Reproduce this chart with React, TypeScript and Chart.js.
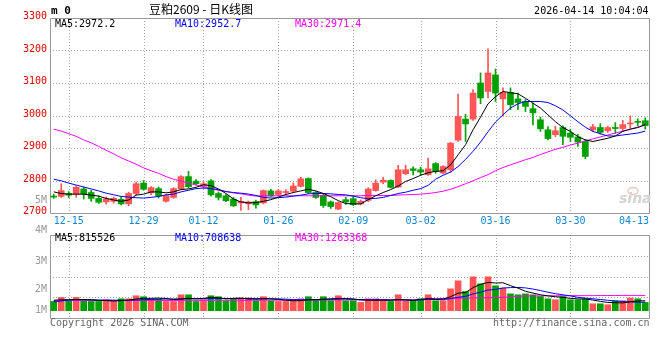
import React, { useEffect, useRef } from 'react';
import { Chart, registerables } from 'chart.js';
Chart.register(...registerables);

const dates = ['12-11','12-12','12-15','12-16','12-17','12-18','12-19','12-22','12-23','12-24','12-25','12-26','12-29','12-30','12-31','01-05','01-06','01-07','01-08','01-09','01-12','01-13','01-14','01-15','01-16','01-19','01-20','01-21','01-22','01-23','01-26','01-27','01-28','01-29','01-30','02-02','02-03','02-04','02-05','02-06','02-09','02-10','02-11','02-12','02-13','02-24','02-25','02-26','02-27','03-02','03-03','03-04','03-05','03-06','03-09','03-10','03-11','03-12','03-13','03-16','03-17','03-18','03-19','03-20','03-23','03-24','03-25','03-26','03-27','03-30','03-31','04-01','04-02','04-03','04-07','04-08','04-09','04-10','04-13','04-14'];

const opens = [2752,2751,2760,2758,2774,2763,2745,2734,2736,2742,2728,2760,2792,2762,2775,2736,2748,2774,2812,2798,2782,2799,2760,2753,2743,2731,2728,2735,2731,2768,2757,2763,2767,2782,2806,2764,2754,2734,2712,2741,2744,2728,2739,2769,2795,2800,2780,2821,2836,2833,2818,2852,2823,2833,2924,2989,2989,3100,3074,3125,3051,3071,3051,3043,3021,2987,2956,2941,2963,2946,2934,2920,2956,2963,2953,2963,2960,2974,2982,2984];
const highs = [2758,2790,2766,2784,2780,2770,2753,2749,2749,2750,2764,2795,2800,2781,2780,2757,2778,2815,2828,2803,2797,2803,2765,2757,2748,2748,2737,2740,2771,2773,2772,2772,2793,2810,2808,2766,2759,2737,2734,2748,2753,2740,2778,2802,2810,2802,2847,2847,2842,2841,2869,2855,2846,2917,3066,3004,3080,3131,3205,3143,3085,3085,3069,3049,3038,2995,2966,2967,2968,2958,2942,2926,2973,2975,2967,2978,2985,2999,2990,2993];
const lows = [2745,2748,2747,2748,2743,2736,2729,2727,2730,2725,2722,2756,2770,2756,2746,2733,2745,2772,2777,2787,2775,2752,2740,2735,2720,2708,2710,2715,2728,2750,2752,2758,2764,2780,2760,2745,2717,2714,2710,2727,2723,2725,2735,2767,2790,2777,2778,2818,2817,2817,2816,2822,2820,2825,2920,2920,2985,3036,3054,3043,2999,3018,3018,3012,2971,2951,2925,2935,2910,2920,2905,2867,2950,2943,2948,2945,2952,2961,2968,2958];
const closes = [2749,2769,2755,2779,2759,2745,2733,2743,2745,2728,2760,2790,2773,2778,2752,2754,2775,2812,2781,2790,2790,2756,2748,2738,2722,2736,2734,2725,2769,2752,2768,2766,2783,2805,2763,2748,2723,2720,2732,2734,2726,2736,2774,2792,2801,2779,2833,2833,2831,2826,2836,2828,2843,2915,2997,2974,3069,3054,3131,3069,3071,3033,3040,3028,3008,2959,2929,2953,2936,2933,2918,2874,2965,2948,2963,2960,2972,2977,2979,2969];

const ma5 = [2765,2760,2758,2758,2758,2755,2752,2745,2740,2736,2740,2755,2758,2765,2765,2762,2765,2772,2774,2779,2787,2784,2774,2760,2743,2734,2731,2732,2736,2741,2749,2757,2763,2768,2773,2768,2760,2750,2738,2729,2728,2728,2741,2753,2763,2772,2783,2797,2806,2816,2824,2828,2830,2848,2879,2910,2956,2995,3036,3058,3074,3070,3067,3053,3038,3023,3002,2981,2963,2951,2935,2925,2920,2925,2930,2937,2951,2958,2963,2972];
const ma10 = [2804,2799,2792,2786,2780,2774,2768,2761,2756,2751,2749,2747,2746,2748,2751,2756,2758,2765,2770,2775,2777,2775,2772,2766,2763,2761,2758,2754,2748,2746,2747,2749,2752,2755,2759,2760,2760,2759,2757,2756,2752,2747,2744,2745,2748,2754,2760,2764,2770,2775,2785,2804,2816,2826,2843,2865,2890,2918,2950,2980,3002,3023,3036,3043,3043,3043,3040,3030,3017,2999,2981,2964,2951,2944,2937,2937,2940,2943,2946,2952];
const ma30 = [2958,2952,2944,2936,2925,2916,2905,2893,2882,2870,2860,2850,2839,2830,2822,2812,2804,2798,2792,2786,2781,2775,2770,2766,2762,2759,2755,2752,2753,2753,2753,2753,2753,2753,2753,2753,2753,2753,2753,2753,2753,2753,2754,2754,2754,2754,2755,2756,2757,2758,2760,2763,2767,2773,2781,2790,2799,2809,2818,2830,2840,2848,2856,2864,2871,2880,2888,2896,2902,2909,2915,2922,2928,2934,2940,2946,2952,2958,2964,2971];

const volumes = [0.76,1.09,0.82,1.09,0.82,0.76,0.76,0.90,0.85,0.98,0.98,1.23,1.15,0.96,0.96,0.76,0.76,1.31,1.31,0.76,0.90,1.23,1.15,0.82,0.98,1.04,1.04,0.82,1.15,0.82,0.76,0.76,0.82,0.98,1.15,0.82,1.15,0.82,1.23,0.82,0.82,0.68,0.98,0.98,0.90,0.76,1.31,0.82,0.82,0.98,1.31,0.82,0.82,1.80,2.46,1.58,2.79,2.21,2.79,2.05,1.86,1.39,1.31,1.39,1.31,1.17,0.98,0.90,1.17,0.90,0.90,0.98,0.57,0.57,0.49,0.82,0.82,1.04,0.98,0.68];
const volMa5 = [0.86,0.90,0.91,0.92,0.92,0.90,0.85,0.83,0.80,0.83,0.87,0.96,1.02,1.02,1.04,1.01,0.92,0.95,1.02,0.98,1.01,1.10,1.07,0.97,1.02,1.04,0.97,0.94,0.98,0.97,0.93,0.86,0.82,0.83,0.90,0.91,0.95,0.98,1.02,1.00,0.97,0.90,0.87,0.86,0.87,0.86,0.91,0.90,0.85,0.93,1.01,0.95,0.96,1.15,1.44,1.50,1.89,2.17,2.33,2.28,2.30,2.06,1.86,1.60,1.45,1.31,1.22,1.15,1.10,1.02,0.97,0.96,0.88,0.77,0.68,0.66,0.64,0.74,0.80,0.82];
const volMa10 = [0.72,0.80,0.88,0.90,0.90,0.90,0.88,0.88,0.87,0.86,0.86,0.88,0.90,0.93,0.95,0.96,0.96,0.98,0.99,0.98,0.98,1.00,1.02,1.00,1.00,1.00,1.02,1.00,1.00,0.99,0.97,0.95,0.92,0.90,0.90,0.89,0.91,0.93,0.96,0.96,0.93,0.90,0.89,0.90,0.90,0.88,0.90,0.88,0.87,0.89,0.93,0.92,0.90,1.00,1.10,1.18,1.38,1.52,1.70,1.75,1.87,1.90,1.91,1.88,1.78,1.66,1.52,1.40,1.31,1.22,1.10,1.04,0.98,0.92,0.86,0.80,0.76,0.72,0.70,0.71];
const volMa30 = [0.83,0.83,0.84,0.84,0.84,0.84,0.84,0.83,0.83,0.84,0.84,0.85,0.85,0.85,0.85,0.84,0.84,0.85,0.86,0.85,0.85,0.86,0.86,0.86,0.86,0.86,0.86,0.86,0.87,0.87,0.87,0.87,0.87,0.88,0.88,0.88,0.88,0.88,0.89,0.89,0.89,0.89,0.90,0.90,0.90,0.90,0.90,0.90,0.90,0.91,0.98,1.00,1.01,1.02,1.03,1.04,1.05,1.06,1.07,1.08,1.10,1.13,1.20,1.21,1.22,1.22,1.23,1.23,1.23,1.24,1.24,1.24,1.24,1.25,1.25,1.25,1.26,1.26,1.26,1.26];

const dateTickLabels = ['12-15','12-29','01-12','01-26','02-09','03-02','03-16','03-30','04-13'];
const gridDateLabels = ['12-15','12-29','01-12','01-26','02-09','03-02','03-16','03-30'];
const priceMin = 2700;
const priceMax = 3300;
const priceStep = 100;
const volAxisLabels = ['5M','4M','3M','2M','1M'];
const volAxisOffsets = [-35, -4.5, 26, 54.5, 75];

const titleText = '豆粕2609 - 日K线图';
const codeText = 'm 0';
const timeText = '2026-04-14 10:04:04';
const priceMaLabels = ['MA5:2972.2', 'MA10:2952.7', 'MA30:2971.4'];
const volMaLabels = ['MA5:815526', 'MA10:708638', 'MA30:1263368'];
const copyrightText = 'Copyright 2026 SINA.COM';
const urlText = 'http://finance.sina.com.cn';

const RED = '#ff5555';
const GREEN = '#00a000';
const MA_COLORS = ['#000000', '#0000ff', '#ff00ff'];
const MONO = '"DejaVu Sans Mono", "Liberation Mono", monospace';
const GRID = '#a8a8a8';
const FRAME = '#999999';

const candleColors = closes.map((c, i) => (c >= opens[i] ? RED : GREEN));

function txt(ctx: CanvasRenderingContext2D, s: string, x: number, y: number, color: string, font: string, align: CanvasTextAlign = 'left') {
  ctx.fillStyle = color;
  ctx.font = font;
  ctx.textAlign = align;
  ctx.textBaseline = 'middle';
  ctx.fillText(s, x, y);
}

function drawGridFrame(chart: any, hLines: number[]) {
  const { ctx, chartArea } = chart;
  const { left, right, top, bottom } = chartArea;
  const x = chart.scales.x;
  ctx.save();
  ctx.lineWidth = 1;
  ctx.strokeStyle = GRID;
  ctx.setLineDash([1, 2]);
  ctx.beginPath();
  hLines.forEach((py) => {
    const yy = Math.round(py) + 0.5;
    ctx.moveTo(left, yy);
    ctx.lineTo(right, yy);
  });
  gridDateLabels.forEach((d) => {
    const idx = dates.indexOf(d);
    const xx = Math.round(x.getPixelForValue(idx)) + 0.5;
    ctx.moveTo(xx, top);
    ctx.lineTo(xx, bottom);
  });
  ctx.stroke();
  ctx.setLineDash([]);
  ctx.strokeStyle = FRAME;
  ctx.beginPath();
  const l = Math.round(left) + 0.5, r = Math.round(right) + 0.5, t = Math.round(top) + 0.5, b = Math.round(bottom) + 0.5;
  ctx.moveTo(l, t); ctx.lineTo(r, t); ctx.lineTo(r, b); ctx.lineTo(l, b); ctx.closePath();
  ctx.stroke();
  ctx.restore();
}

const mainDecor = {
  id: 'mainDecor',
  beforeDatasetsDraw(chart: any) {
    const y = chart.scales.y;
    const lines: number[] = [];
    for (let v = priceMin + priceStep; v < priceMax; v += priceStep) lines.push(y.getPixelForValue(v));
    drawGridFrame(chart, lines);
  },
  afterDraw(chart: any) {
    const { ctx, chartArea } = chart;
    const { left, right, top, bottom } = chartArea;
    const x = chart.scales.x;
    ctx.save();
    txt(ctx, codeText, left + 1, 11.5, '#000', `bold 11px ${MONO}`);
    txt(ctx, titleText, 201, 9.5, '#000', '12px "Noto Sans CJK SC", sans-serif', 'center');
    txt(ctx, timeText, right - 0.5, 11, '#000', `10px ${MONO}`, 'right');
    priceMaLabels.forEach((s, i) => txt(ctx, s, left + 5 + i * 120, top + 6, MA_COLORS[i], `10px ${MONO}`));
    ctx.font = `10px ${MONO}`;
    dateTickLabels.forEach((d) => {
      const idx = dates.indexOf(d);
      const w = ctx.measureText(d).width;
      let cx = x.getPixelForValue(idx);
      cx = Math.min(cx, right - w / 2);
      cx = Math.max(cx, left + w / 2);
      txt(ctx, d, cx, bottom + 8.7, '#0f86d8', `10px ${MONO}`, 'center');
    });
    // sina watermark
    ctx.strokeStyle = '#f2c4c4';
    ctx.lineWidth = 1.5;
    ctx.beginPath();
    ctx.ellipse(633, 191, 5, 3.5, 0, 0, Math.PI * 2);
    ctx.stroke();
    txt(ctx, 'sina', 619, 199, '#d4d4d4', `italic bold 14px "DejaVu Sans", sans-serif`);
    ctx.restore();
  },
};

const volDecor = {
  id: 'volDecor',
  beforeDatasetsDraw(chart: any) {
    const { top, bottom } = chart.chartArea;
    const lines: number[] = [];
    for (let k = 1; k < 4; k++) lines.push(top + (k * (bottom - top)) / 4);
    drawGridFrame(chart, lines);
  },
  afterDraw(chart: any) {
    const { ctx, chartArea } = chart;
    const { left, right, top, bottom } = chartArea;
    ctx.save();
    volMaLabels.forEach((s, i) => txt(ctx, s, left + 5 + i * 120, top + 3.5, MA_COLORS[i], `10px ${MONO}`));
    volAxisLabels.forEach((s, i) => txt(ctx, s, left - 3, top + volAxisOffsets[i], '#999', `10px ${MONO}`, 'right'));
    txt(ctx, copyrightText, left, bottom + 5.5, '#666', `10px ${MONO}`);
    txt(ctx, urlText, right + 0.5, bottom + 5.5, '#666', `10px ${MONO}`, 'right');
    ctx.restore();
  },
};

function lineDs(data: number[], color: string, order: number, yAxisID = 'y') {
  return {
    type: 'line' as const,
    data,
    borderColor: color,
    borderWidth: 1,
    pointRadius: 0,
    tension: 0,
    fill: false,
    order,
    yAxisID,
  };
}

export default function App() {
  const mainRef = useRef<HTMLCanvasElement>(null);
  const volRef = useRef<HTMLCanvasElement>(null);

  useEffect(() => {
    const common = {
      animation: false as const,
      responsive: false,
      devicePixelRatio: 1,
      events: [] as any[],
      plugins: { legend: { display: false }, tooltip: { enabled: false } },
    };
    const main = new Chart(mainRef.current as HTMLCanvasElement, {
      type: 'bar',
      data: {
        labels: dates,
        datasets: [
          {
            type: 'bar',
            data: lows.map((l, i) => [l, highs[i]]),
            backgroundColor: candleColors,
            barThickness: 1,
            grouped: false,
            borderWidth: 0,
            order: 5,
          } as any,
          {
            type: 'bar',
            data: opens.map((o, i) => [o, closes[i]]),
            backgroundColor: candleColors,
            barThickness: 6,
            minBarLength: 1,
            grouped: false,
            borderWidth: 0,
            order: 4,
          } as any,
          lineDs(ma30, MA_COLORS[2], 3),
          lineDs(ma10, MA_COLORS[1], 2),
          lineDs(ma5, MA_COLORS[0], 1),
        ],
      },
      options: {
        ...common,
        layout: { padding: { top: 18, bottom: 147, right: 11, left: 0 } },
        scales: {
          x: { type: 'category', display: false, offset: true },
          y: {
            type: 'linear',
            position: 'left',
            min: priceMin,
            max: priceMax,
            afterFit: (s: any) => { s.width = 50; },
            grid: { display: false, drawTicks: false },
            border: { display: false },
            ticks: {
              stepSize: priceStep,
              padding: 3,
              labelOffset: -1.5,
              color: '#e00000',
              font: { family: MONO, size: 10 },
              callback: (v: any) => String(v),
            },
          },
        },
      } as any,
      plugins: [mainDecor],
    });

    const vol = new Chart(volRef.current as HTMLCanvasElement, {
      type: 'bar',
      data: {
        labels: dates,
        datasets: [
          {
            type: 'bar',
            data: volumes,
            backgroundColor: candleColors,
            barThickness: 6,
            grouped: false,
            borderWidth: 0,
            order: 4,
          } as any,
          lineDs(volMa30, MA_COLORS[2], 3),
          lineDs(volMa10, MA_COLORS[1], 2),
          lineDs(volMa5, MA_COLORS[0], 1),
        ],
      },
      options: {
        ...common,
        layout: { padding: { top: 235, bottom: 42, right: 11, left: 50 } },
        scales: {
          x: { type: 'category', display: false, offset: true },
          y: { type: 'linear', display: false, min: -0.6, max: 6.23 },
        },
      } as any,
      plugins: [volDecor],
    });

    return () => {
      main.destroy();
      vol.destroy();
    };
  }, []);

  return (
    <div style={{ position: 'fixed', left: 0, top: 0, width: 660, height: 360, background: '#fff' }}>
      <canvas ref={mainRef} width={660} height={360} style={{ position: 'absolute', left: 0, top: 0 }} />
      <canvas ref={volRef} width={660} height={360} style={{ position: 'absolute', left: 0, top: 0 }} />
    </div>
  );
}
